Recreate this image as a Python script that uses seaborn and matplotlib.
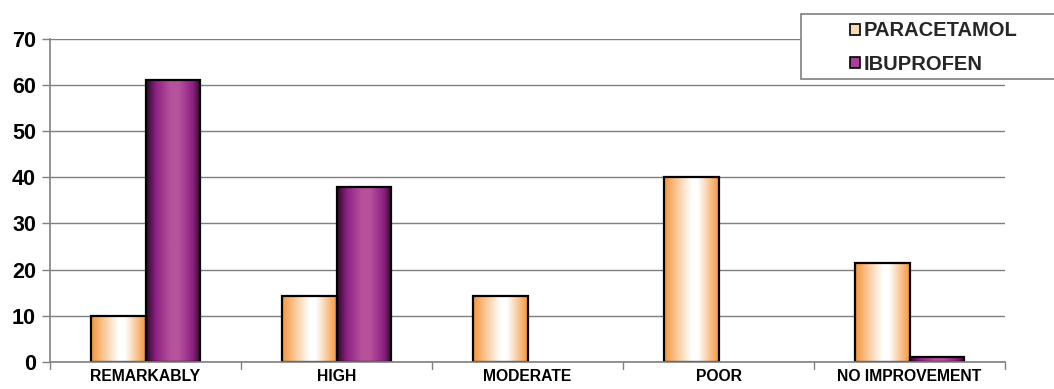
import numpy as np
import pandas as pd
import matplotlib
matplotlib.use("Agg")
import matplotlib.pyplot as plt
from matplotlib.colors import LinearSegmentedColormap
from matplotlib.patches import Rectangle, Patch
import seaborn as sns

# Response categories and percentage of patients per drug
categories = ["REMARKABLY", "HIGH", "MODERATE", "POOR", "NO IMPROVEMENT"]
paracetamol = [10.0, 14.3, 14.3, 40.0, 21.4]
ibuprofen = [61.1, 37.8, 0.0, 0.0, 1.1]
drugs = ["PARACETAMOL", "IBUPROFEN"]
y_ticks = [0, 10, 20, 30, 40, 50, 60, 70]

df = pd.DataFrame({
    "category": categories * 2,
    "drug": [drugs[0]] * len(categories) + [drugs[1]] * len(categories),
    "value": paracetamol + ibuprofen,
})

sns.set_theme(style="white")
plt.rcParams["font.family"] = ["Liberation Sans", "DejaVu Sans"]
plt.rcParams["font.weight"] = "bold"

fig = plt.figure(figsize=(10.54, 3.89), dpi=100)
ax = fig.add_axes([50 / 1054, 27.3 / 389, 955 / 1054, 322.7 / 389])

sns.barplot(data=df, x="category", y="value", hue="drug", order=categories,
            hue_order=drugs, palette=["#F7A04A", "#A8409A"], width=0.566,
            gap=0, dodge=True, legend=False, ax=ax, errorbar=None,
            edgecolor="black", linewidth=1.6, saturation=1)

# horizontal shading maps for each series
cmaps = {
    drugs[0]: LinearSegmentedColormap.from_list(
        "para", [(0.0, "#F4963A"), (0.2, "#F9C08A"), (0.5, "#FFFFFF"),
                 (0.62, "#FFFFFF"), (0.85, "#F9C08A"), (1.0, "#F4963A")]),
    drugs[1]: LinearSegmentedColormap.from_list(
        "ibu", [(0.0, "#2A0A25"), (0.18, "#8E2184"), (0.45, "#B6529C"),
                (0.6, "#B6529C"), (0.85, "#8E2184"), (1.0, "#2A0A25")]),
}
grad = np.linspace(0, 1, 256).reshape(1, -1)

patches = list(ax.patches)
n = len(categories)
for i, p in enumerate(patches):
    drug = drugs[i // n]
    x, y = p.get_x(), p.get_y()
    w, h = p.get_width(), p.get_height()
    if h <= 0:
        p.set_visible(False)
        continue
    im = ax.imshow(grad, extent=[x, x + w, y, y + h], aspect="auto",
                   cmap=cmaps[drug], zorder=p.get_zorder() - 0.01,
                   interpolation="bilinear")
    im.set_clip_path(p)
    p.set_facecolor("none")

ax.set_xlim(-0.5, n - 0.5)
ax.set_ylim(0, 70)
ax.set_yticks(y_ticks)
ax.set_yticklabels([str(t) for t in y_ticks], fontsize=15.5, fontweight="bold")
ax.set_xticks(range(n))
ax.set_xticklabels(categories, fontsize=11.3, fontweight="bold")
ax.tick_params(axis="x", length=0, pad=5, colors="black")
ax.tick_params(axis="y", length=6, width=1, color="#808080", pad=4,
               left=True)
for lbl in ax.get_yticklabels() + ax.get_xticklabels():
    lbl.set_color("black")

# category separators along the x axis
for b in np.arange(-0.5, n, 1.0):
    ax.plot([b, b], [0, -1.5], color="#808080", lw=1, clip_on=False,
            transform=ax.transData)

ax.yaxis.grid(True, color="#7F7F7F", linewidth=1)
ax.set_axisbelow(True)
ax.set_xlabel("")
ax.set_ylabel("")
for side in ["top", "right"]:
    ax.spines[side].set_visible(False)
for side in ["left", "bottom"]:
    ax.spines[side].set_color("#808080")
    ax.spines[side].set_linewidth(1.2)

# legend box
box = Rectangle((800.5 / 1054, 1 - 79 / 389), 0.3, (79 - 14.5) / 389,
                transform=fig.transFigure, facecolor="white",
                edgecolor="#7F7F7F", linewidth=1.2, zorder=3)
fig.patches.append(box)
handles = [Patch(facecolor="#FCD9B8", edgecolor="black", linewidth=1.2),
           Patch(facecolor="#A8409A", edgecolor="black", linewidth=1.2)]
leg = fig.legend(handles, drugs, loc="center left",
                 bbox_to_anchor=(840 / 1054, 1 - 47.5 / 389), frameon=False,
                 fontsize=14.5, handlelength=0.5, handleheight=0.5,
                 handletextpad=0.15, labelspacing=0.7, borderpad=0)
leg.set_zorder(5)
for t in leg.get_texts():
    t.set_fontweight("bold")

fig.savefig("out.png", dpi=100)
